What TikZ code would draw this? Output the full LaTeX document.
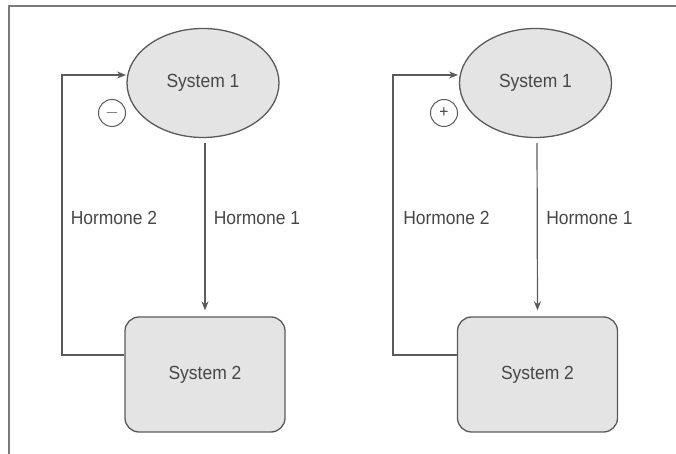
\documentclass[tikz,border=0pt]{standalone}
\usepackage{fontspec}
\setmainfont{Liberation Sans}[FakeStretch=0.92]
\usetikzlibrary{shapes.geometric,arrows.meta,calc}
\definecolor{ink}{HTML}{5A5A5A}
\definecolor{txt}{HTML}{474747}
\definecolor{shade}{HTML}{E4E4E4}
\begin{document}
\begin{tikzpicture}[x=1pt,y=1pt,
  sysoval/.style={ellipse,draw=ink,line width=1.3pt,fill=shade,minimum width=152pt,minimum height=109pt,inner sep=0pt,text=txt,font=\fontsize{19}{21}\selectfont},
  sysbox/.style={rectangle,rounded corners=14pt,draw=ink,line width=1.3pt,fill=shade,minimum width=160pt,minimum height=115pt,inner sep=0pt,text=txt,font=\fontsize{19}{21}\selectfont},
  signcirc/.style={circle,draw=ink,line width=1pt,minimum size=27pt,inner sep=0pt,text=txt,font=\fontsize{17}{19}\selectfont},
  lbl/.style={text=txt,inner sep=0pt,font=\fontsize{19}{21}\selectfont},
  flow/.style={draw=ink,line width=1.2pt,-{Stealth[length=9pt,width=7pt]}},
  frame/.style={draw=ink!80,line width=1.6pt}]
\useasboundingbox (0,0) rectangle (676,454);
% outer frame: top and left edges only
\coordinate (fa) at (676,448);
\coordinate (fb) at (9,448);
\coordinate (fc) at (9,0);
\draw[frame] (fa) -- (fb) -- (fc);

% ---- negative feedback loop ----
\node[sysoval] (s1L) at (203,371) {System 1};
\node[sysbox] (s2L) at (205,79.5) {System 2};
\node[signcirc] (negL) at (112,341) {$-$};
\node[lbl] (h2L) at (114,236) {Hormone 2};
\node[lbl] (h1L) at (257,236) {Hormone 1};
\draw[flow,shorten <=5pt,shorten >=6pt] (s1L.south -| 205,0) -- (s2L.north);
\coordinate (fbL0) at ($(s2L.west)+(0,19.5)$);
\coordinate (fbL1) at (62,99);
\coordinate (fbL2) at (62,379);
\coordinate (fbL3) at (126,379);
\draw[flow] (fbL0) -- (fbL1) -- (fbL2) -- (fbL3);

% ---- positive feedback loop ----
\node[sysoval] (s1R) at (535.5,371) {System 1};
\node[sysbox] (s2R) at (537.5,79.5) {System 2};
\node[signcirc] (posR) at (444,341) {+};
\node[lbl] (h2R) at (446.5,236) {Hormone 2};
\node[lbl] (h1R) at (589.5,236) {Hormone 1};
\draw[flow,shorten <=5pt,shorten >=6pt] (s1R.south -| 537,0) -- (s2R.north);
\coordinate (fbR0) at ($(s2R.west)+(0,19.5)$);
\coordinate (fbR1) at (393,99);
\coordinate (fbR2) at (393,379);
\coordinate (fbR3) at (458,379);
\draw[flow] (fbR0) -- (fbR1) -- (fbR2) -- (fbR3);
\end{tikzpicture}
\end{document}
